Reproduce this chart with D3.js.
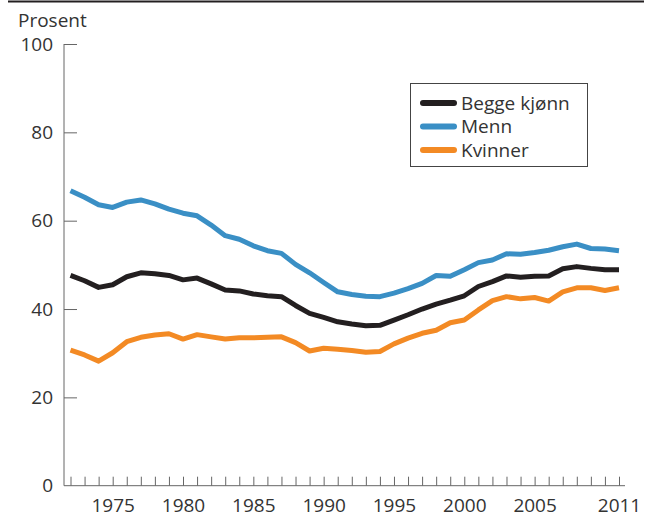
<!DOCTYPE html>
<html>
<head>
<meta charset="utf-8">
<script src="https://cdn.jsdelivr.net/npm/d3@7"></script>
<style>
  body { margin: 0; background: #fff; }
  svg { display: block; font-family: "Open Sans", sans-serif; }
</style>
</head>
<body>
<svg id="chart"></svg>
<script>
// data
const years = d3.range(1972, 2012);
const begge = [47.6, 46.4, 44.9, 45.5, 47.3, 48.2, 48.0, 47.6, 46.6, 47.0,
               45.7, 44.3, 44.1, 43.4, 43.0, 42.8, 40.8, 39.0, 38.1, 37.1,
               36.6, 36.2, 36.3, 37.5, 38.7, 40.0, 41.1, 42.0, 43.0, 45.1,
               46.2, 47.5, 47.2, 47.4, 47.5, 49.1, 49.6, 49.2, 48.9, 48.9];
const menn = [66.8, 65.3, 63.6, 63.0, 64.2, 64.7, 63.8, 62.6, 61.7, 61.1,
              59.0, 56.6, 55.8, 54.3, 53.2, 52.6, 50.1, 48.2, 46.0, 43.9,
              43.3, 42.9, 42.8, 43.6, 44.6, 45.8, 47.6, 47.4, 48.9, 50.5,
              51.1, 52.5, 52.4, 52.8, 53.3, 54.1, 54.7, 53.7, 53.6, 53.2];
const kvinner = [30.7, 29.6, 28.2, 30.1, 32.6, 33.6, 34.1, 34.4, 33.2, 34.2,
                 33.7, 33.2, 33.5, 33.5, 33.6, 33.7, 32.4, 30.5, 31.1, 30.9,
                 30.6, 30.2, 30.4, 32.1, 33.4, 34.5, 35.2, 36.9, 37.5, 39.8,
                 41.9, 42.8, 42.3, 42.6, 41.8, 43.9, 44.8, 44.8, 44.2, 44.8];
const labelYears = [1975, 1980, 1985, 1990, 1995, 2000, 2005, 2011];
const yTicks = [0, 20, 40, 60, 80, 100];

const series = [
    {name: "Begge kjønn", values: begge, color: "#231f20"},
    {name: "Menn", values: menn, color: "#3a8fc5"},
    {name: "Kvinner", values: kvinner, color: "#f38a24"}
];

const width = 652, height = 517;
const textColor = "#333";
const axisColor = "#666";

const svg = d3.select("#chart")
    .attr("width", width)
    .attr("height", height);

const x = d3.scaleLinear().domain([1972, 2011]).range([70.5, 619]);
const y = d3.scaleLinear().domain([0, 100]).range([485.7, 44]);
const axisX = 64;

// top rule
svg.append("line")
    .attr("x1", 8).attr("x2", 644)
    .attr("y1", 1.5).attr("y2", 1.5)
    .attr("stroke", "#231f20")
    .attr("stroke-width", 2);

svg.append("text")
    .attr("x", 18).attr("y", 27)
    .attr("font-size", "19px")
    .attr("fill", textColor)
    .text("Prosent");

// y axis, ticks pointing into the plot
const yAxis = svg.append("g")
    .attr("transform", `translate(${axisX},0)`)
    .call(d3.axisLeft(y).tickValues(yTicks.filter(d => d > 0)).tickSize(-13).tickPadding(11));
yAxis.select(".domain").remove();
yAxis.append("line")
    .attr("x1", 0).attr("x2", 0)
    .attr("y1", y(100)).attr("y2", y(0))
    .attr("stroke", axisColor);
yAxis.append("g").attr("class", "tick")
    .attr("transform", `translate(0,${y(0)})`)
    .append("text")
    .attr("x", -11).attr("dy", "0.32em")
    .text("0");
yAxis.selectAll("line").attr("stroke", axisColor);
yAxis.selectAll("text")
    .attr("font-size", "19px")
    .attr("font-family", "Open Sans, sans-serif")
    .attr("fill", textColor)
    .attr("text-anchor", "end");

// x axis, one tick per year
const xAxis = svg.append("g")
    .attr("transform", `translate(0,${y(0)})`)
    .call(d3.axisBottom(x)
        .tickValues(years)
        .tickSize(-9)
        .tickPadding(13)
        .tickFormat(d => labelYears.includes(d) ? String(d) : ""));
xAxis.select(".domain").remove();
xAxis.append("line")
    .attr("x1", axisX).attr("x2", 625)
    .attr("stroke", axisColor);
xAxis.selectAll("line").attr("stroke", axisColor);
xAxis.selectAll("text")
    .attr("font-size", "19px")
    .attr("font-family", "Open Sans, sans-serif")
    .attr("fill", textColor);

// lines
const line = d3.line()
    .x((d, i) => x(years[i]))
    .y(d => y(d));

svg.append("g")
    .selectAll("path")
    .data(series)
    .join("path")
    .attr("d", d => line(d.values))
    .attr("fill", "none")
    .attr("stroke", d => d.color)
    .attr("stroke-width", 5)
    .attr("stroke-linejoin", "round");

// legend
const legend = svg.append("g");
legend.append("rect")
    .attr("x", 410.5).attr("y", 83.5)
    .attr("width", 177).attr("height", 83)
    .attr("fill", "#fff")
    .attr("stroke", "#444")
    .attr("stroke-width", 1);

const item = legend.selectAll("g.item")
    .data(series)
    .join("g")
    .attr("class", "item")
    .attr("transform", (d, i) => `translate(0,${103 + i * 23.5})`);
item.append("line")
    .attr("x1", 423).attr("x2", 454)
    .attr("stroke", d => d.color)
    .attr("stroke-width", 6)
    .attr("stroke-linecap", "round");
item.append("text")
    .attr("x", 461).attr("dy", "0.35em")
    .attr("font-size", "19px")
    .attr("fill", textColor)
    .text(d => d.name);
</script>
</body>
</html>
